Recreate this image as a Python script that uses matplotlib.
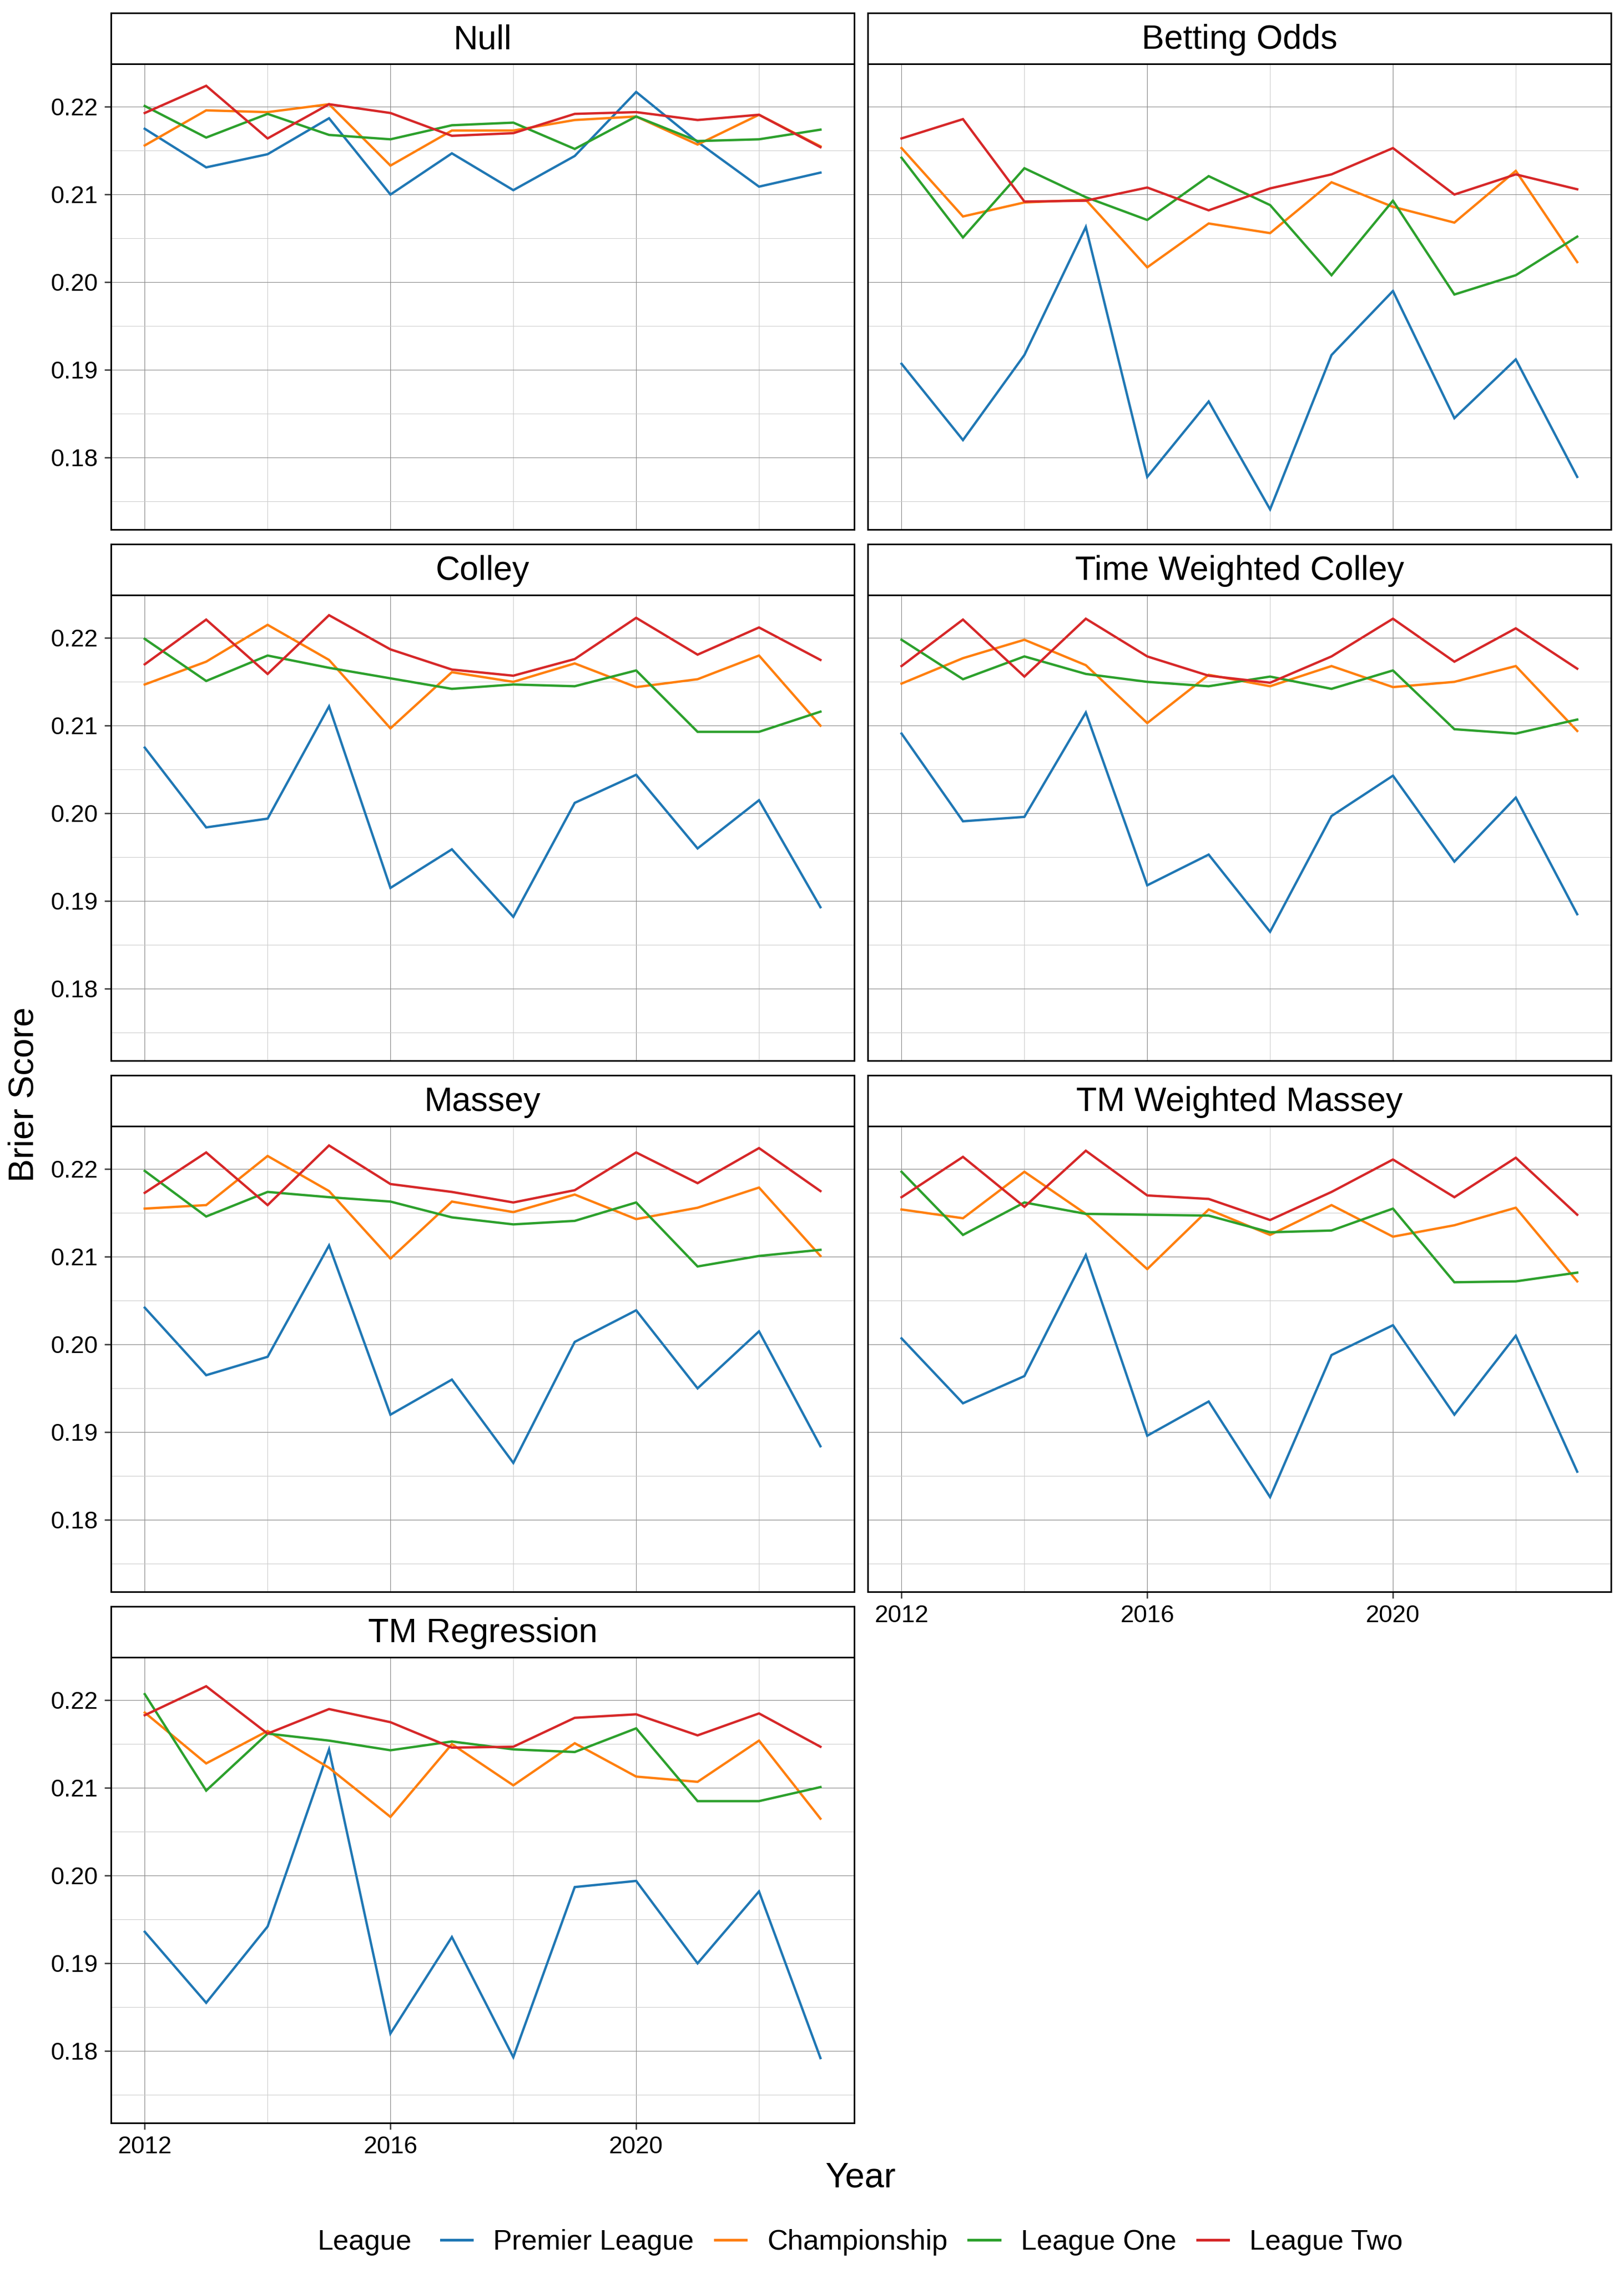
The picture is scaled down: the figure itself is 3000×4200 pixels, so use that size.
import matplotlib
matplotlib.use('Agg')
import matplotlib.pyplot as plt
from matplotlib.lines import Line2D
from matplotlib.ticker import FixedLocator, FormatStrFormatter

plt.rcParams['font.family'] = ['Liberation Sans', 'DejaVu Sans']

# ---------------- data ----------------
years = list(range(2012, 2024))
leagues = ['Premier League', 'Championship', 'League One', 'League Two']
colors = ['#1f77b4', '#ff7f0e', '#2ca02c', '#d62728']

model_names = ['Null', 'Betting Odds', 'Colley', 'Time Weighted Colley',
               'Massey', 'TM Weighted Massey', 'TM Regression']

null_pl = [0.2175, 0.2131, 0.2146, 0.2187, 0.2100, 0.2147, 0.2105, 0.2144, 0.2217, 0.2160, 0.2109, 0.2125]
null_ch = [0.2156, 0.2196, 0.2194, 0.2203, 0.2133, 0.2173, 0.2173, 0.2185, 0.2189, 0.2157, 0.2191, 0.2155]
null_l1 = [0.2201, 0.2165, 0.2192, 0.2168, 0.2163, 0.2179, 0.2182, 0.2152, 0.2189, 0.2161, 0.2163, 0.2174]
null_l2 = [0.2193, 0.2224, 0.2164, 0.2203, 0.2193, 0.2167, 0.2170, 0.2192, 0.2194, 0.2185, 0.2191, 0.2154]

bet_pl = [0.1907, 0.1820, 0.1917, 0.2063, 0.1778, 0.1864, 0.1741, 0.1917, 0.1990, 0.1845, 0.1912, 0.1778]
bet_ch = [0.2153, 0.2075, 0.2091, 0.2094, 0.2017, 0.2067, 0.2056, 0.2114, 0.2086, 0.2068, 0.2127, 0.2023]
bet_l1 = [0.2142, 0.2051, 0.2130, 0.2097, 0.2071, 0.2121, 0.2088, 0.2008, 0.2093, 0.1986, 0.2008, 0.2052]
bet_l2 = [0.2164, 0.2186, 0.2092, 0.2093, 0.2108, 0.2082, 0.2107, 0.2123, 0.2153, 0.2100, 0.2123, 0.2106]

col_pl = [0.2075, 0.1984, 0.1994, 0.2122, 0.1915, 0.1959, 0.1882, 0.2012, 0.2044, 0.1960, 0.2015, 0.1893]
col_ch = [0.2147, 0.2173, 0.2215, 0.2175, 0.2097, 0.2161, 0.2150, 0.2171, 0.2144, 0.2153, 0.2180, 0.2100]
col_l1 = [0.2199, 0.2151, 0.2180, 0.2166, 0.2154, 0.2142, 0.2147, 0.2145, 0.2163, 0.2093, 0.2093, 0.2116]
col_l2 = [0.2170, 0.2221, 0.2159, 0.2226, 0.2187, 0.2164, 0.2157, 0.2176, 0.2223, 0.2181, 0.2212, 0.2175]

twc_pl = [0.2091, 0.1991, 0.1996, 0.2115, 0.1918, 0.1953, 0.1865, 0.1997, 0.2043, 0.1945, 0.2018, 0.1885]
twc_ch = [0.2148, 0.2177, 0.2198, 0.2169, 0.2103, 0.2158, 0.2145, 0.2168, 0.2144, 0.2150, 0.2168, 0.2094]
twc_l1 = [0.2198, 0.2153, 0.2179, 0.2159, 0.2150, 0.2145, 0.2156, 0.2142, 0.2163, 0.2096, 0.2091, 0.2107]
twc_l2 = [0.2168, 0.2221, 0.2156, 0.2222, 0.2179, 0.2157, 0.2149, 0.2179, 0.2222, 0.2173, 0.2211, 0.2165]

mas_pl = [0.2042, 0.1965, 0.1986, 0.2113, 0.1920, 0.1960, 0.1865, 0.2003, 0.2039, 0.1950, 0.2015, 0.1884]
mas_ch = [0.2155, 0.2159, 0.2215, 0.2175, 0.2098, 0.2163, 0.2151, 0.2171, 0.2143, 0.2156, 0.2179, 0.2101]
mas_l1 = [0.2198, 0.2146, 0.2174, 0.2168, 0.2163, 0.2145, 0.2137, 0.2141, 0.2162, 0.2089, 0.2101, 0.2108]
mas_l2 = [0.2173, 0.2219, 0.2159, 0.2227, 0.2183, 0.2174, 0.2162, 0.2176, 0.2219, 0.2184, 0.2224, 0.2175]

twm_pl = [0.2007, 0.1933, 0.1964, 0.2102, 0.1896, 0.1935, 0.1826, 0.1988, 0.2022, 0.1920, 0.2010, 0.1855]
twm_ch = [0.2154, 0.2144, 0.2197, 0.2149, 0.2086, 0.2154, 0.2125, 0.2159, 0.2123, 0.2136, 0.2156, 0.2072]
twm_l1 = [0.2197, 0.2125, 0.2162, 0.2149, 0.2148, 0.2147, 0.2128, 0.2130, 0.2155, 0.2071, 0.2072, 0.2082]
twm_l2 = [0.2168, 0.2214, 0.2157, 0.2221, 0.2170, 0.2166, 0.2142, 0.2174, 0.2211, 0.2168, 0.2213, 0.2148]

reg_pl = [0.1936, 0.1855, 0.1942, 0.2144, 0.1820, 0.1930, 0.1793, 0.1987, 0.1994, 0.1900, 0.1982, 0.1792]
reg_ch = [0.2186, 0.2128, 0.2165, 0.2123, 0.2067, 0.2150, 0.2103, 0.2151, 0.2113, 0.2107, 0.2154, 0.2065]
reg_l1 = [0.2207, 0.2097, 0.2162, 0.2154, 0.2143, 0.2153, 0.2144, 0.2141, 0.2168, 0.2085, 0.2085, 0.2101]
reg_l2 = [0.2183, 0.2216, 0.2162, 0.2190, 0.2175, 0.2146, 0.2147, 0.2180, 0.2184, 0.2160, 0.2185, 0.2147]

series_by_model = [
    [null_pl, null_ch, null_l1, null_l2],
    [bet_pl, bet_ch, bet_l1, bet_l2],
    [col_pl, col_ch, col_l1, col_l2],
    [twc_pl, twc_ch, twc_l1, twc_l2],
    [mas_pl, mas_ch, mas_l1, mas_l2],
    [twm_pl, twm_ch, twm_l1, twm_l2],
    [reg_pl, reg_ch, reg_l1, reg_l2],
]

x_major = [2012, 2016, 2020]
x_minor = [2014, 2018, 2022]
y_major = [0.18, 0.19, 0.20, 0.21, 0.22]
y_minor = [0.175, 0.185, 0.195, 0.205, 0.215, 0.225]

# ---------------- layout ----------------
W, H = 3000, 4200
fig = plt.figure(figsize=(10, 14), dpi=300)
fig.patch.set_facecolor('white')

cols_px = [(205, 1578), (1603, 2976)]
strip_h = 94
panel_h = 860
row_pitch = 981
first_top = 24

positions = [(0, 0), (0, 1), (1, 0), (1, 1), (2, 0), (2, 1), (3, 0)]
bottom_panels = {5, 6}

for i, name in enumerate(model_names):
    r, c = positions[i]
    x0, x1 = cols_px[c]
    s_top = first_top + r * row_pitch
    p_top = s_top + strip_h
    p_bot = p_top + panel_h
    ax = fig.add_axes([x0 / W, 1 - p_bot / H, (x1 - x0) / W, panel_h / H])
    sax = fig.add_axes([x0 / W, 1 - p_top / H, (x1 - x0) / W, strip_h / H])

    for vals, col, lab in zip(series_by_model[i], colors, leagues):
        ax.plot(years, vals, color=col, lw=1.05, label=lab, solid_joinstyle='miter')

    ax.set_xlim(2011.45, 2023.55)
    ax.set_ylim(0.1718, 0.2249)
    ax.xaxis.set_major_locator(FixedLocator(x_major))
    ax.xaxis.set_minor_locator(FixedLocator(x_minor))
    ax.yaxis.set_major_locator(FixedLocator(y_major))
    ax.yaxis.set_minor_locator(FixedLocator(y_minor))
    ax.yaxis.set_major_formatter(FormatStrFormatter('%.2f'))
    ax.grid(which='major', color='#8a8a8a', lw=0.28)
    ax.grid(which='minor', color='#cccccc', lw=0.25)
    ax.set_axisbelow(True)
    for sp in ax.spines.values():
        sp.set_color('black')
        sp.set_linewidth(0.7)
    ax.tick_params(which='minor', length=0)
    ax.tick_params(which='major', length=2.9, width=0.6, color='#333333',
                   pad=2.9, labelsize=10.8, labelcolor='black')
    if c != 0:
        ax.tick_params(axis='y', which='major', length=0, labelleft=False)
    if i not in bottom_panels:
        ax.tick_params(axis='x', which='major', length=0, labelbottom=False)

    sax.set_xticks([])
    sax.set_yticks([])
    sax.set_facecolor('white')
    for sp in sax.spines.values():
        sp.set_color('black')
        sp.set_linewidth(0.7)
    sax.text(0.5, 0.47, name, ha='center', va='center', fontsize=15,
             color='black', transform=sax.transAxes)

fig.text(1590 / W, 1 - 4023 / H, 'Year', ha='center', va='center', fontsize=15.5)
fig.text(45 / W, 1 - 2021 / H, 'Brier Score', ha='center', va='center',
         rotation=90, fontsize=15.5)

legend_y = 1 - 4142 / H
fig.text(587 / W, legend_y, 'League', ha='left', va='center', fontsize=12.5)
handles = [Line2D([0], [0], color=col, lw=1.2) for col in colors]
fig.legend(handles, leagues, loc='center', bbox_to_anchor=(1703 / W, legend_y),
           ncol=4, frameon=False, fontsize=12.5, handlelength=1.1,
           handletextpad=0.75, columnspacing=0.75, borderaxespad=0, borderpad=0)

fig.savefig('out.png', dpi=300, facecolor='white')
